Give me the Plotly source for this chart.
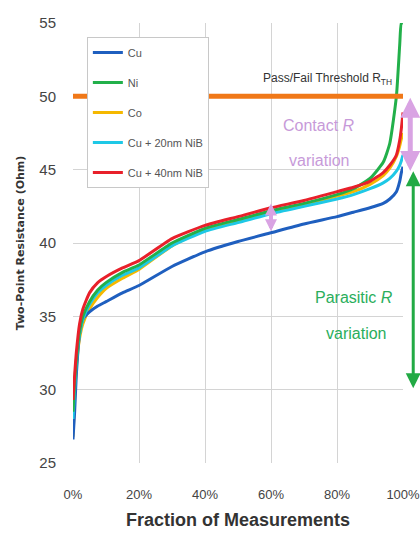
import plotly.graph_objects as go

x_pct = [0, 0.5, 1, 2, 3, 5, 7.5, 10, 15, 20, 30, 40, 50, 60, 70, 80, 85, 90, 94, 96, 98, 99, 99.5, 100]

cu = [26.6, 28.5, 31.0, 33.8, 34.8, 35.3, 35.7, 36.0, 36.6, 37.1, 38.4, 39.4, 40.1, 40.7, 41.3, 41.8, 42.1, 42.4, 42.7, 43.0, 43.5, 44.2, 44.8, 45.2]
ni = [28.5, 30.5, 32.0, 34.0, 35.0, 36.0, 36.8, 37.3, 38.0, 38.5, 40.0, 41.0, 41.6, 42.2, 42.7, 43.3, 43.7, 44.4, 45.5, 46.8, 50.0, 53.5, 55.0, 55.0]
co = [26.8, 29.5, 31.5, 33.5, 34.5, 35.5, 36.3, 36.9, 37.6, 38.2, 39.8, 40.9, 41.5, 42.1, 42.6, 43.2, 43.5, 44.0, 44.6, 45.1, 45.9, 46.6, 47.1, 47.5]
cu20 = [28.0, 30.0, 31.8, 33.8, 34.8, 35.8, 36.6, 37.1, 37.8, 38.3, 39.8, 40.8, 41.4, 42.0, 42.5, 43.0, 43.3, 43.7, 44.1, 44.4, 44.9, 45.3, 45.6, 46.0]
cu40 = [29.3, 31.0, 32.5, 34.5, 35.5, 36.6, 37.3, 37.7, 38.3, 38.8, 40.3, 41.2, 41.8, 42.4, 42.9, 43.5, 43.8, 44.2, 44.8, 45.3, 46.0, 47.0, 47.8, 48.9]

series_names = ["Cu", "Ni", "Co", "Cu + 20nm NiB", "Cu + 40nm NiB"]
series_vals = [cu, ni, co, cu20, cu40]
series_colors = ["#1f5fbf", "#22b04a", "#f5b800", "#1ec8e6", "#e8202a"]
draw_order = [2, 0, 3, 1, 4]

threshold = 50
x_ticks = [0, 20, 40, 60, 80, 100]
x_tick_labels = ["0%", "20%", "40%", "60%", "80%", "100%"]
y_ticks = [25, 30, 35, 40, 45, 50, 55]

fig = go.Figure()
for i in draw_order:
    fig.add_trace(go.Scatter(
        x=x_pct, y=series_vals[i], mode="lines", name=series_names[i],
        line=dict(color=series_colors[i], width=3, shape="spline", smoothing=0.5),
        legendrank=i + 1, legendgroup=series_names[i],
    ))

fig.add_shape(type="line", x0=0, x1=100, y0=threshold, y1=threshold,
              xref="x", yref="y", line=dict(color="#f07818", width=5))

txt_font = "Liberation Sans Narrow, Liberation Sans, Arial Narrow, sans-serif"
fig.add_annotation(x=77, y=51.2, text="Pass/Fail Threshold R<sub>TH</sub>", showarrow=False,
                   font=dict(family=txt_font, size=12, color="#333333"))
fig.add_annotation(x=74.5, y=48.0, text="Contact <i>R</i>", showarrow=False,
                   font=dict(family=txt_font, size=16, color="#c79ad9"))
fig.add_annotation(x=74.5, y=45.6, text="variation", showarrow=False,
                   font=dict(family=txt_font, size=16, color="#c79ad9"))
fig.add_annotation(x=85.2, y=36.3, text="Parasitic <i>R</i>", showarrow=False,
                   font=dict(family=txt_font, size=16, color="#2aae5c"))
fig.add_annotation(x=85.8, y=33.8, text="variation", showarrow=False,
                   font=dict(family=txt_font, size=16, color="#2aae5c"))

# arrows: head at y1 (data), tail offset given in pixels
px_per_unit = 440 / 30.0

def dbl_arrow(xpaper, y0, y1, color, width, size):
    fig.add_annotation(x=xpaper, y=y1, xref="paper", yref="y", axref="pixel", ayref="pixel",
                       ax=0, ay=(y1 - y0) * px_per_unit,
                       text="", showarrow=True, arrowhead=2, startarrowhead=2,
                       arrowside="end+start", arrowcolor=color, arrowwidth=width,
                       arrowsize=size, startarrowsize=size)

dbl_arrow(1.022, 44.8, 49.9, "#d9a3e3", 5, 0.8)
dbl_arrow(1.031, 30.0, 44.9, "#22aa44", 3, 1.0)
dbl_arrow(0.60, 40.7, 42.7, "#d9a3e3", 4, 0.6)

fig.update_layout(
    width=420, height=548,
    margin=dict(l=73, r=17, t=23, b=85, autoexpand=False),
    paper_bgcolor="white", plot_bgcolor="white",
    showlegend=True,
    legend=dict(x=0.042, y=0.968, xanchor="left", yanchor="top",
                bordercolor="#c8c8c8", borderwidth=1, bgcolor="white",
                font=dict(family=txt_font, size=11, color="#555555"),
                itemwidth=30, tracegroupgap=11, traceorder="grouped"),
    xaxis=dict(range=[0, 100], tickvals=x_ticks, ticktext=x_tick_labels,
               showgrid=True, gridcolor="#d4d4d4", gridwidth=1, zeroline=False,
               showline=False, ticks="", ticklabelstandoff=22, automargin=False,
               ticklabeloverflow="allow",
               tickfont=dict(family=txt_font, size=13, color="#444444"),
               title=dict(text="<b>Fraction of Measurements</b>", standoff=12,
                          font=dict(family=txt_font, size=18, color="#333333"))),
    yaxis=dict(range=[25, 55], tickvals=y_ticks,
               showgrid=True, gridcolor="#d4d4d4", gridwidth=1, zeroline=False,
               showline=False, ticks="", ticklabelstandoff=16, automargin=False,
               tickfont=dict(family=txt_font, size=15, color="#444444"),
               title=dict(text="<b>Two-Point Resistance (Ohm)</b>", standoff=12,
                          font=dict(family="DejaVu Sans, sans-serif", size=11, color="#333333"))),
)

fig.write_html("out.html", config={"displayModeBar": False},
               post_script="document.body.style.margin='0';document.body.style.overflow='hidden';")
